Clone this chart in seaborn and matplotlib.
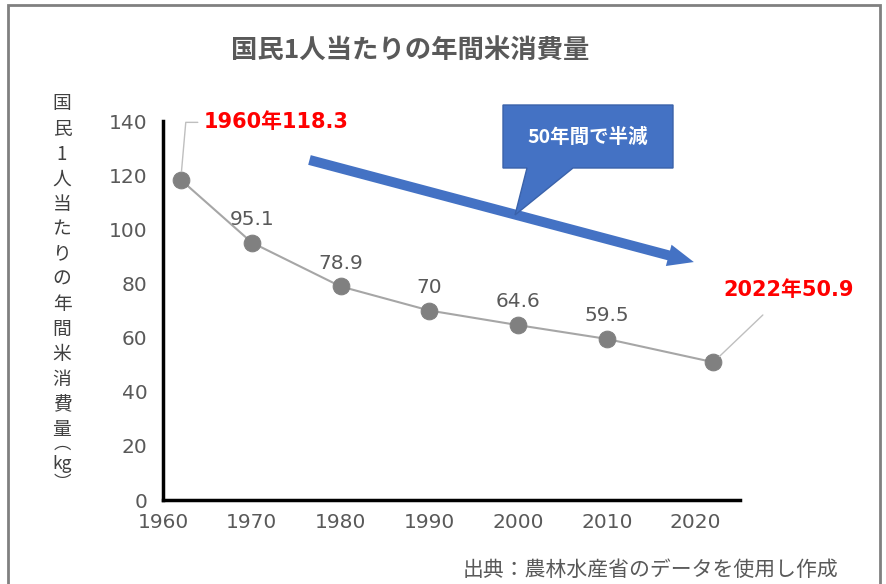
import matplotlib
matplotlib.use('Agg')
import matplotlib.pyplot as plt
import seaborn as sns
import pandas as pd
from matplotlib.patches import Rectangle, Polygon

# データ
years = [1962, 1970, 1980, 1990, 2000, 2010, 2022]
consumption = [118.3, 95.1, 78.9, 70, 64.6, 59.5, 50.9]
point_labels = ['', '95.1', '78.9', '70', '64.6', '59.5', '']
x_ticks = [1960, 1970, 1980, 1990, 2000, 2010, 2020]
y_ticks = [0, 20, 40, 60, 80, 100, 120, 140]

title = '国民1人当たりの年間米消費量'
ylabel = '国民1人当たりの年間米消費量'
ylabel_unit = ['︵', 'kg', '︶']
source = '出典：農林水産省のデータを使用し作成'

sns.set_style('white')
plt.rcParams['font.family'] = ['Noto Sans CJK JP', 'DejaVu Sans']
num_font = ['DejaVu Sans', 'Noto Sans CJK JP']

W, H = 887, 584
fig = plt.figure(figsize=(W / 100, H / 100), dpi=100)

def fx(x):
    return x / W

def fy(y):
    return 1 - y / H

# 外枠
fig.patches.append(Rectangle((fx(8), fy(640)), fx(872), 635 / H, transform=fig.transFigure,
                             fill=False, edgecolor='#808080', linewidth=2))

ax = fig.add_axes([fx(163), fy(500), fx(740) - fx(163), fy(121) - fy(500)])
df = pd.DataFrame({'year': years, 'kg': consumption})
sns.lineplot(data=df, x='year', y='kg', ax=ax, color='#A6A6A6', linewidth=1.5,
             marker='o', markersize=12, markerfacecolor='#808080', markeredgecolor='#808080')

ax.set_xlim(1960, 2025)
ax.set_ylim(0, 140)
ax.set_xticks(x_ticks)
ax.set_yticks(y_ticks)
ax.tick_params(direction='in', length=5, width=2, color='black', labelsize=14.5,
               labelcolor='#595959', labelfontfamily='DejaVu Sans')
ax.tick_params(axis='y', pad=11)
ax.tick_params(axis='x', pad=9)
for s in ['top', 'right']:
    ax.spines[s].set_visible(False)
for s in ['left', 'bottom']:
    ax.spines[s].set_linewidth(2.5)
    ax.spines[s].set_color('black')
ax.set_xlabel('')
ax.set_ylabel('')

# データラベル
for x, y, lab in zip(years, consumption, point_labels):
    if lab:
        ax.annotate(lab, (x, y), xytext=(0, 10), textcoords='offset points',
                    ha='center', va='bottom', fontsize=14.5, color='#595959', family=num_font)

ax.annotate(f'{years[0] - 2}年{consumption[0]}', (years[0], consumption[0]),
            xytext=(1964.6, 139.5), textcoords='data', ha='left', va='center',
            fontsize=15, fontweight='bold', color='red', annotation_clip=False,
            family=num_font,
            arrowprops=dict(arrowstyle='-', color='#BFBFBF', lw=1,
                            connectionstyle='angle,angleA=0,angleB=85,rad=0',
                            shrinkA=2, shrinkB=6))
ax.annotate(f'{years[-1]}年{consumption[-1]}', (years[-1], consumption[-1]),
            xytext=(2030.5, 77.5), textcoords='data', ha='center', va='center',
            fontsize=15, fontweight='bold', color='red', annotation_clip=False,
            family=num_font,
            arrowprops=dict(arrowstyle='-', color='#BFBFBF', lw=1,
                            shrinkA=12, shrinkB=6))

# 減少の矢印
blue = '#4472C4'
ax.annotate('', xy=(2019.8, 87.9), xytext=(1976.5, 125.6), textcoords='data',
            annotation_clip=False,
            arrowprops=dict(arrowstyle='simple,head_width=1.1,head_length=1.3,tail_width=0.5',
                            mutation_scale=14.4, facecolor=blue, edgecolor=blue, lw=0,
                            shrinkA=0, shrinkB=0))

# 吹き出し
fig.patches.append(Polygon([(fx(503), fy(105)), (fx(673), fy(105)), (fx(673), fy(168)),
                            (fx(573), fy(168)), (fx(515), fy(215)), (fx(527), fy(168)),
                            (fx(503), fy(168))], closed=True, transform=fig.transFigure,
                           facecolor=blue, edgecolor='#3A62AA', linewidth=1))
fig.text(fx(588), fy(137), '50年間で半減', ha='center', va='center', fontsize=14,
         fontweight='bold', color='white')

# タイトル・軸ラベル・出典
fig.text(fx(410), fy(50), title, ha='center', va='center', fontsize=19,
         fontweight='bold', color='#595959')
fig.text(fx(62), fy(93.5), '\n'.join(ylabel), ha='center', va='top', fontsize=13.5,
         color='#404040', linespacing=1.252)
fig.text(fx(62), fy(435), '\n'.join(ylabel_unit), ha='center', va='top', fontsize=12.5,
         color='#404040', linespacing=1.12)
fig.text(fx(838), fy(570), source, ha='right', va='center', fontsize=15, color='#595959')

fig.savefig('out.png', dpi=100)
